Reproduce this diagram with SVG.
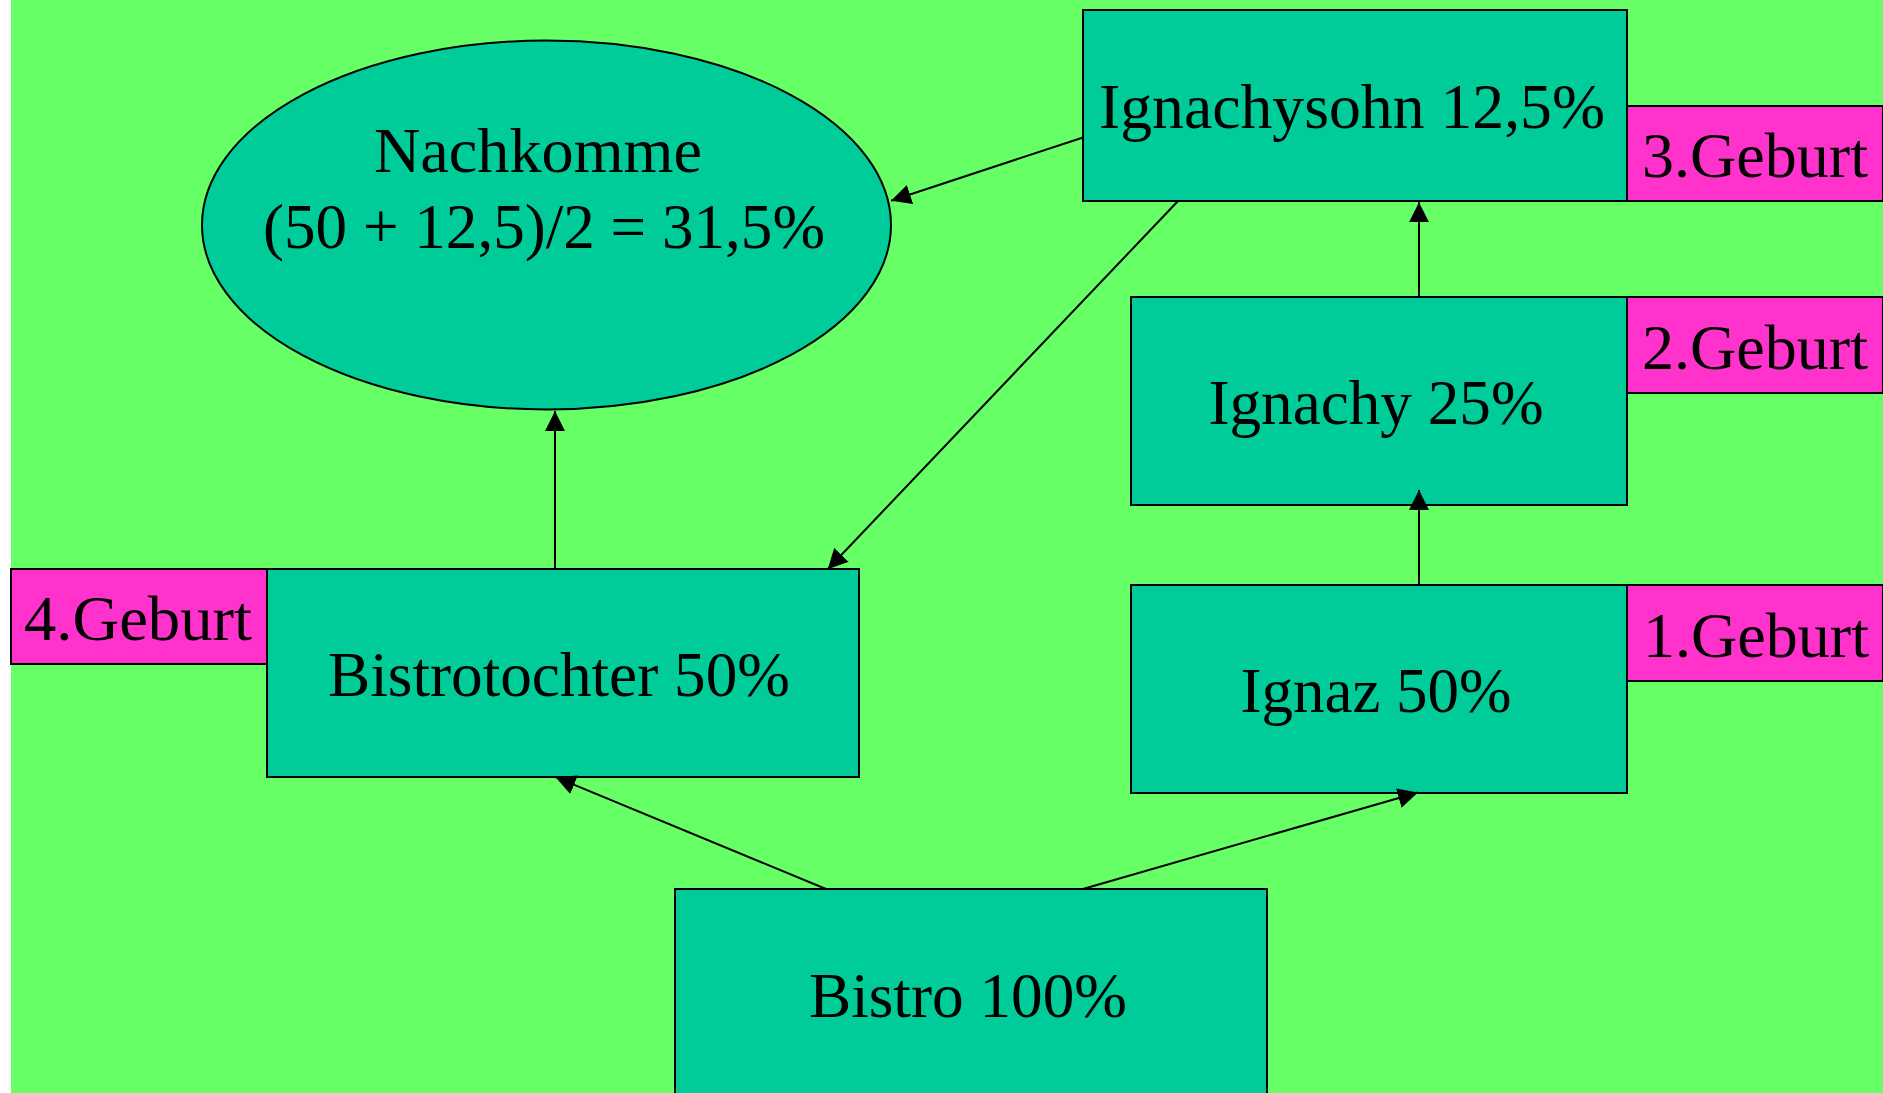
<svg xmlns="http://www.w3.org/2000/svg" width="1883" height="1093" viewBox="0 0 1883 1093">
<style>
.node{fill:#00CC99;stroke:#000;stroke-width:2}
.tag{fill:#FF33CC;stroke:#000;stroke-width:2}
.t{font-family:"Liberation Serif","Times New Roman",serif;font-size:64px;fill:#000;text-anchor:middle}
.c{stroke:#000;stroke-width:2;fill:none;marker-end:url(#ah)}
</style>
<defs>
<marker id="ah" viewBox="0 0 20 20" refX="20" refY="10" markerWidth="20" markerHeight="20" markerUnits="userSpaceOnUse" orient="auto">
<path d="M0,0 L20,10 L0,20 z" fill="#000"/>
</marker>
</defs>
<rect x="0" y="0" width="1883" height="1093" fill="#FFFFFF"/>
<rect x="11" y="0" width="1872" height="1093" fill="#66FF66"/>
<g id="nachkomme">
<ellipse class="node" cx="546.5" cy="225" rx="344.5" ry="184.5"/>
<text class="t" x="538" y="172" textLength="328" lengthAdjust="spacingAndGlyphs">Nachkomme</text>
<text class="t" x="544" y="248" textLength="562" lengthAdjust="spacingAndGlyphs">(50 + 12,5)/2 = 31,5%</text>
</g>
<g id="ignachysohn">
<rect class="node" x="1083" y="10" width="544" height="191"/>
<text class="t" x="1352" y="128" textLength="506" lengthAdjust="spacingAndGlyphs">Ignachysohn 12,5%</text>
</g>
<g id="geburt3">
<rect class="tag" x="1627" y="106" width="256" height="95"/>
<text class="t" x="1755" y="177" textLength="226" lengthAdjust="spacingAndGlyphs">3.Geburt</text>
</g>
<g id="ignachy">
<rect class="node" x="1131" y="297" width="496" height="208"/>
<text class="t" x="1376" y="424" textLength="335" lengthAdjust="spacingAndGlyphs">Ignachy 25%</text>
</g>
<g id="geburt2">
<rect class="tag" x="1627" y="297" width="256" height="96"/>
<text class="t" x="1755" y="369" textLength="226" lengthAdjust="spacingAndGlyphs">2.Geburt</text>
</g>
<g id="ignaz">
<rect class="node" x="1131" y="585" width="496" height="208"/>
<text class="t" x="1376" y="712" textLength="271" lengthAdjust="spacingAndGlyphs">Ignaz 50%</text>
</g>
<g id="geburt1">
<rect class="tag" x="1627" y="585" width="256" height="96"/>
<text class="t" x="1756" y="657" textLength="226" lengthAdjust="spacingAndGlyphs">1.Geburt</text>
</g>
<g id="bistrotochter">
<rect class="node" x="267" y="569" width="592" height="208"/>
<text class="t" x="559" y="696" textLength="462" lengthAdjust="spacingAndGlyphs">Bistrotochter 50%</text>
</g>
<g id="geburt4">
<rect class="tag" x="11" y="569" width="256" height="95"/>
<text class="t" x="138" y="640" textLength="228" lengthAdjust="spacingAndGlyphs">4.Geburt</text>
</g>
<g id="bistro">
<rect class="node" x="675" y="889" width="592" height="220"/>
<text class="t" x="968" y="1017" textLength="318" lengthAdjust="spacingAndGlyphs">Bistro 100%</text>
</g>
<g id="connectors">
<line class="c" x1="555" y1="569" x2="555" y2="411"/>
<line class="c" x1="1083" y1="137.5" x2="891" y2="200.7"/>
<line class="c" x1="1178" y1="201" x2="827.7" y2="569.3"/>
<line class="c" x1="826" y1="889" x2="555.6" y2="777.2"/>
<line class="c" x1="1083" y1="889" x2="1418" y2="792.5"/>
<line class="c" x1="1419" y1="585" x2="1419" y2="490"/>
<line class="c" x1="1419" y1="297" x2="1419" y2="202.3"/>
</g>
</svg>
